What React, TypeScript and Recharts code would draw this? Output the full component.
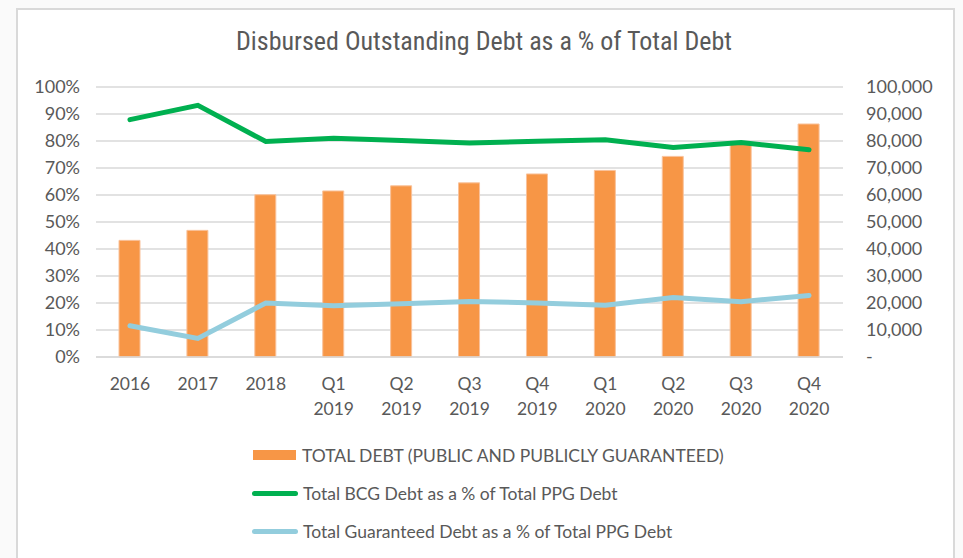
import React from "react";
import {
  ComposedChart,
  Bar,
  Line,
  XAxis,
  YAxis,
  CartesianGrid,
} from "recharts";

const periods = [
  "2016",
  "2017",
  "2018",
  "Q1 2019",
  "Q2 2019",
  "Q3 2019",
  "Q4 2019",
  "Q1 2020",
  "Q2 2020",
  "Q3 2020",
  "Q4 2020",
];
const totalDebt = [43200, 46900, 60100, 61500, 63400, 64500, 67800, 69100, 74300, 79400, 86300];
const bcgShare = [0.879, 0.932, 0.798, 0.81, 0.802, 0.793, 0.799, 0.805, 0.776, 0.794, 0.768];
const guaranteedShare = [0.116, 0.069, 0.2, 0.19, 0.197, 0.206, 0.2, 0.192, 0.22, 0.205, 0.228];

const pctTicks = [0, 0.1, 0.2, 0.3, 0.4, 0.5, 0.6, 0.7, 0.8, 0.9, 1];
const amountTicks = [0, 10000, 20000, 30000, 40000, 50000, 60000, 70000, 80000, 90000, 100000];

const seriesNames = [
  "TOTAL DEBT (PUBLIC AND PUBLICLY GUARANTEED)",
  "Total BCG Debt as a % of Total PPG Debt",
  "Total Guaranteed Debt as a % of Total PPG Debt",
];

const data = periods.map((p, i) => ({
  period: p,
  total: totalDebt[i],
  bcg: bcgShare[i],
  guaranteed: guaranteedShare[i],
}));

const FONT = "Lato, 'Open Sans', sans-serif";
const TEXT = "#595959";
const ORANGE = "#F79646";
const GREEN = "#00B050";
const BLUE = "#93CDDD";

// eslint-disable-next-line @typescript-eslint/no-explicit-any
function PeriodTick({ x, y, payload }: any) {
  const parts = String(payload.value).split(" ");
  return (
    <text x={x} y={y} textAnchor="middle" fill={TEXT} fontSize={17.5} fontFamily={FONT}>
      {parts.map((t, i) => (
        <tspan key={i} x={x} dy={i === 0 ? 33 : 25}>
          {t}
        </tspan>
      ))}
    </text>
  );
}

function ChartLegend() {
  const row = { display: "flex", alignItems: "center", height: 38 } as const;
  const label = { marginLeft: 5, color: TEXT, fontSize: 17.5, fontFamily: FONT } as const;
  return (
    <div style={{ position: "absolute", left: 252, top: 436, width: 600 }}>
      <div style={row}>
        <div style={{ width: 43, height: 10, background: ORANGE, marginLeft: 1 }} />
        <span style={{ ...label, marginLeft: 6 }}>{seriesNames[0]}</span>
      </div>
      <div style={row}>
        <div style={{ width: 46, height: 5, borderRadius: 3, background: GREEN }} />
        <span style={label}>{seriesNames[1]}</span>
      </div>
      <div style={row}>
        <div style={{ width: 46, height: 5, borderRadius: 3, background: BLUE }} />
        <span style={label}>{seriesNames[2]}</span>
      </div>
    </div>
  );
}

export default function App() {
  return (
    <div
      style={{
        position: "absolute",
        left: 0,
        top: 0,
        width: 963,
        height: 558,
        background: "#fafafa",
        overflow: "hidden",
      }}
    >
      <div
        style={{
          position: "absolute",
          left: 16,
          top: 8,
          width: 935,
          height: 600,
          background: "#fff",
          border: "2px solid #d9d9d9",
        }}
      />
      <div
        style={{
          position: "absolute",
          left: 0,
          top: 26,
          width: 968,
          textAlign: "center",
          color: TEXT,
          fontSize: 26,
          fontFamily: "'Liberation Sans Narrow', 'Roboto Condensed', sans-serif",
        }}
      >
        Disbursed Outstanding Debt as a % of Total Debt
      </div>
      <div style={{ position: "absolute", left: 0, top: 0 }}>
        <ComposedChart
          width={963}
          height={558}
          data={data}
          margin={{ top: 87, right: 0, bottom: 0, left: 0 }}
        >
          <CartesianGrid
            yAxisId="pct"
            vertical={false}
            stroke="#d9d9d9"
            strokeWidth={1.5}
          />
          <XAxis
            dataKey="period"
            height={201}
            axisLine={{ stroke: "#d9d9d9", strokeWidth: 1.5 }}
            tickLine={false}
            tickSize={0}
            tickMargin={0}
            interval={0}
            tick={<PeriodTick />}
          />
          <YAxis
            yAxisId="pct"
            orientation="left"
            width={96}
            domain={[0, 1]}
            ticks={pctTicks}
            interval={0}
            axisLine={false}
            tickLine={false}
            tickSize={0}
            tickMargin={16}
            tickFormatter={(v: number) => `${Math.round(v * 100)}%`}
            tick={{ fill: TEXT, fontSize: 18, fontFamily: FONT }}
          />
          <YAxis
            yAxisId="amt"
            orientation="right"
            width={120}
            domain={[0, 100000]}
            ticks={amountTicks}
            interval={0}
            axisLine={false}
            tickLine={false}
            tickSize={0}
            tickMargin={23}
            tickFormatter={(v: number) => (v === 0 ? "-" : v.toLocaleString("en-US"))}
            tick={{ fill: TEXT, fontSize: 18, fontFamily: FONT, textAnchor: "start" }}
          />
          <Bar
            yAxisId="amt"
            dataKey="total"
            name={seriesNames[0]}
            barSize={21}
            fill={ORANGE}
            stroke="#f9c29b"
            strokeWidth={1}
            isAnimationActive={false}
          />
          <Line
            yAxisId="pct"
            dataKey="bcg"
            name={seriesNames[1]}
            stroke={GREEN}
            strokeWidth={5}
            strokeLinecap="round"
            dot={false}
            activeDot={false}
            isAnimationActive={false}
          />
          <Line
            yAxisId="pct"
            dataKey="guaranteed"
            name={seriesNames[2]}
            stroke={BLUE}
            strokeWidth={5}
            strokeLinecap="round"
            dot={false}
            activeDot={false}
            isAnimationActive={false}
          />
        </ComposedChart>
      </div>
      <ChartLegend />
    </div>
  );
}
